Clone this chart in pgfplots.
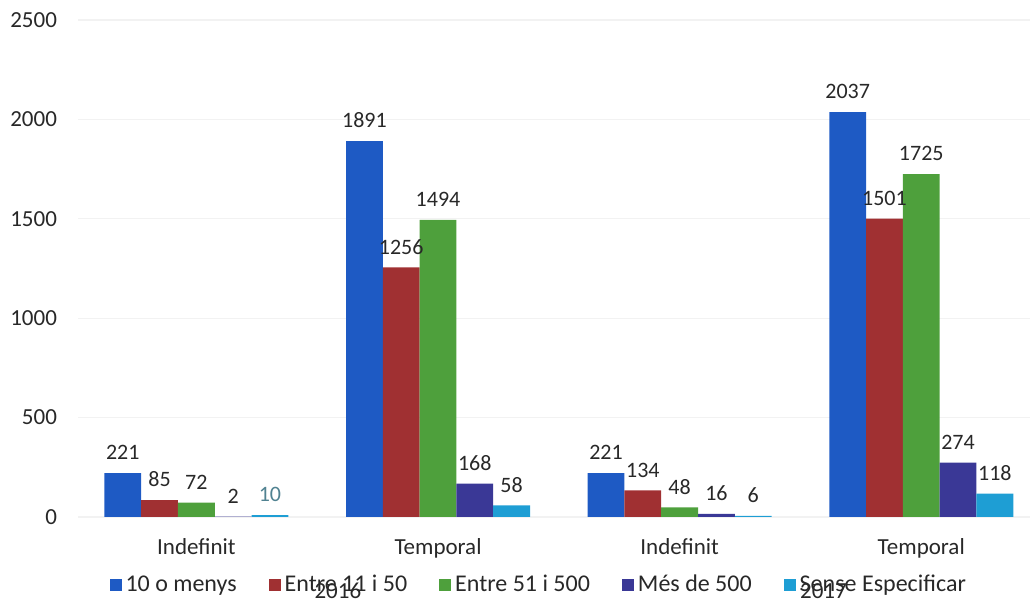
\documentclass[border=0pt]{standalone}
\usepackage{fontspec}
\setmainfont{Carlito}
\usepackage{pgfplots}
\pgfplotsset{compat=1.18}
\definecolor{cBlue}{RGB}{30,90,196}
\definecolor{cRed}{RGB}{160,48,50}
\definecolor{cGreen}{RGB}{78,160,60}
\definecolor{cPurple}{RGB}{58,56,150}
\definecolor{cCyan}{RGB}{30,158,212}
\definecolor{cText}{RGB}{40,40,40}
\definecolor{cTeal}{RGB}{80,130,145}
\begin{document}
\begin{tikzpicture}
\path[use as bounding box] (-39pt,-43pt) rectangle (476pt,258.5pt);
\begin{axis}[
  at={(0,0)}, anchor=south west,
  scale only axis,
  width=476pt, height=248.5pt,
  ybar=0pt, bar width=18.4pt,
  xmin=-0.49, xmax=3.45,
  ymin=0, ymax=2500,
  ytick={0,500,...,2500},
  xtick={0,1,2,3},
  xticklabels={Indefinit,Temporal,Indefinit,Temporal},
  axis line style={draw=none},
  major tick length=0pt,
  ymajorgrids,
  grid style={gray!10, line width=0.6pt},
  tick label style={font=\fontsize{11.5}{13}\selectfont, text=cText},
  /pgf/number format/assume math mode=true,
  /pgf/number format/set thousands separator={},
  yticklabel style={xshift=-7pt},
  xticklabel style={yshift=-7pt},
  nodes near coords,
  nodes near coords style={font=\fontsize{11}{13}\selectfont, text=cText, yshift=3pt},
  every axis plot/.append style={draw=none},
  legend style={at={(0.485,-0.137)}, anchor=center, legend columns=5,
    draw=none, fill=none, font=\fontsize{12}{13}\selectfont, text=cText,
    /tikz/every even column/.append style={column sep=14pt}},
  legend image code/.code={\fill[#1] (0pt,-3.2pt) rectangle (6pt,3.2pt);},
  clip=false,
]
\addplot[fill=cBlue] coordinates {(0,221) (1,1891) (2,221) (3,2037)};
\addplot[fill=cRed] coordinates {(0,85) (1,1256) (2,134) (3,1501)};
\addplot[fill=cGreen] coordinates {(0,72) (1,1494) (2,48) (3,1725)};
\addplot[fill=cPurple] coordinates {(0,2) (1,168) (2,16) (3,274)};
\addplot[fill=cCyan,
  visualization depends on={x \as \myx},
  nodes near coords={\pgfmathparse{\myx<0.5 ? 1 : 0}\ifnum\pgfmathresult=1 \color{cTeal}\fi\pgfmathprintnumber{\pgfplotspointmeta}}
  ] coordinates {(0,10) (1,58) (2,6) (3,118)};
\node[font=\fontsize{11.5}{13}\selectfont, text=cText] at (rel axis cs:0.273,-0.149) {2016};
\node[font=\fontsize{11.5}{13}\selectfont, text=cText] at (rel axis cs:0.783,-0.149) {2017};
\legend{10 o menys, Entre 11 i 50, Entre 51 i 500, Més de 500, Sense Especificar}
\end{axis}
\end{tikzpicture}
\end{document}
